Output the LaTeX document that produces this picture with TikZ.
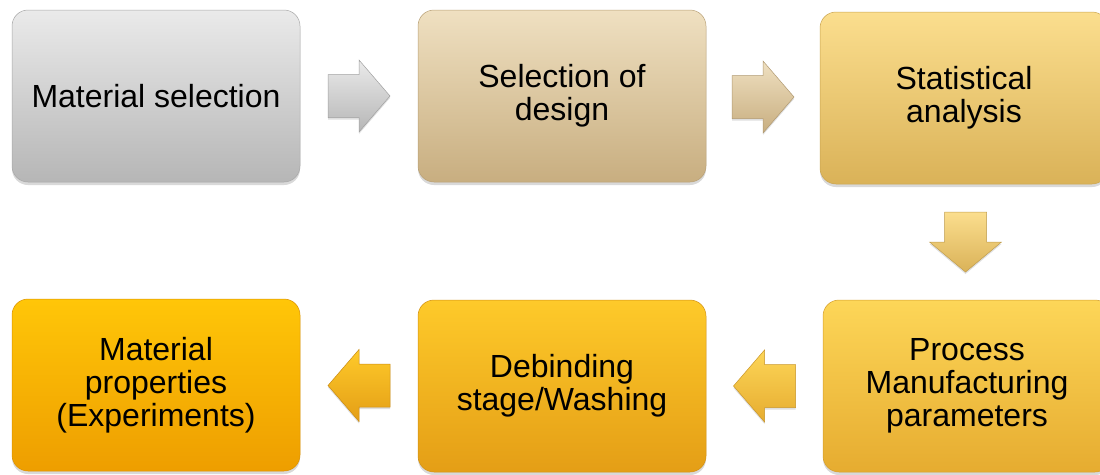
\documentclass[tikz,border=0pt]{standalone}
\usepackage{fontspec}
\setmainfont{Liberation Sans}
\usetikzlibrary{shadows,calc}
\definecolor{gA}{RGB}{234,234,234}\definecolor{gB}{RGB}{182,182,182}
\definecolor{tA}{RGB}{239,224,193}\definecolor{tB}{RGB}{200,174,128}
\definecolor{sA}{RGB}{251,222,142}\definecolor{sB}{RGB}{218,178,88}
\definecolor{pA}{RGB}{253,214,88}\definecolor{pB}{RGB}{230,172,48}
\definecolor{dA}{RGB}{254,202,42}\definecolor{dB}{RGB}{228,158,22}
\definecolor{mA}{RGB}{255,198,8}\definecolor{mB}{RGB}{238,158,0}
\tikzset{
  stepbox/.style 2 args={rounded corners=16pt, minimum width=288pt, minimum height=172pt,
    align=center, font=\fontsize{32}{33}\selectfont, text=black, inner sep=0pt,
    top color=#1, bottom color=#2, draw=#2!92!black, line width=0.5pt,
    drop shadow={opacity=0.3, shadow xshift=0pt, shadow yshift=-3pt}},
  blockarrow/.style 2 args={top color=#1, bottom color=#2, draw=#2!88!black, line width=0.5pt,
    line join=miter, drop shadow={opacity=0.25, shadow xshift=0pt, shadow yshift=-2pt}}
}
\newcommand{\rightblock}[4][]{%
  \path[blockarrow={#3}{#4}, shift={(#2)}, #1]
    (-31,-21.5) -- (0,-21.5) -- (0,-36) -- (31,0) -- (0,36) -- (0,21.5) -- (-31,21.5) -- cycle;}
\newcommand{\downblock}[3]{%
  \path[blockarrow={#2}{#3}, shift={(#1)}]
    (-21,-30) -- (21,-30) -- (21,0) -- (36,0) -- (0,30) -- (-36,0) -- (-21,0) -- cycle;}
\begin{document}
\begin{tikzpicture}[x=1pt, y=-1pt]
  \useasboundingbox (0,0) rectangle (1100,474);
  \clip (0,0) rectangle (1100,474);
  \node[stepbox={gA}{gB}] (b1) at (156,96) {Material selection};
  \node[stepbox={tA}{tB}] (b2) at (562,96) {Selection of\\design};
  \node[stepbox={sA}{sB}] (b3) at (964,98) {Statistical\\analysis};
  \node[stepbox={pA}{pB}] (b6) at (967,386) {Process\\Manufacturing\\parameters};
  \node[stepbox={dA}{dB}] (b5) at (562,386) {Debinding\\stage/Washing};
  \node[stepbox={mA}{mB}] (b4) at (156,385) {Material\\properties\\(Experiments)};
  \coordinate (a1) at ($(b1.east)!0.5!(b2.west)$);
  \coordinate (a2) at ($(b2.east)!0.5!(b3.west)$);
  \coordinate (a3) at ($(b3.south)!0.5!(b6.north)$);
  \coordinate (a4) at ($(b6.west)!0.5!(b5.east)$);
  \coordinate (a5) at ($(b5.west)!0.5!(b4.east)$);
  \rightblock{a1}{gA}{gB}
  \rightblock{a2}{tA}{tB}
  \downblock{a3}{sA}{sB}
  \rightblock[xscale=-1]{a4}{pA}{pB}
  \rightblock[xscale=-1]{a5}{dA}{dB}
\end{tikzpicture}
\end{document}
